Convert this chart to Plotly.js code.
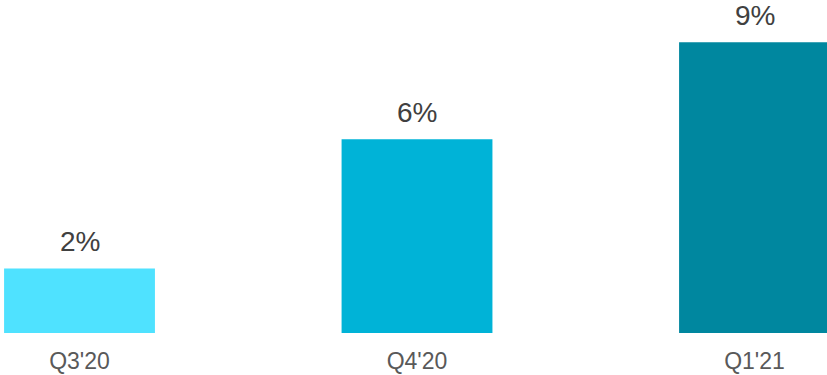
<!DOCTYPE html>
<html><head><meta charset="utf-8">
<script src="https://cdn.plot.ly/plotly-3.0.1.min.js"></script>
<style>html,body{margin:0;padding:0;background:#fff}#chart{width:827px;height:375px}</style>
</head><body><div id="chart"></div>
<script>
const categories = ["Q3'20", "Q4'20", "Q1'21"];
const values = [2, 6, 9];
const labels = ["2%", "6%", "9%"];
const colors = ["#4FE2FF", "#00B3D7", "#00879F"];

const trace = {
  type: 'bar',
  x: categories,
  y: values,
  marker: {color: colors, line: {width: 0}},
  width: 0.447,
  hoverinfo: 'none'
};
const annotations = categories.map((c, i) => ({
  x: c, y: values[i], text: labels[i], showarrow: false,
  xanchor: 'center', yanchor: 'bottom', yshift: 9,
  font: {family: 'Liberation Sans, Arial, sans-serif', size: 28, color: '#404040'}
}));
const layout = {
  width: 827, height: 375,
  margin: {l: 0, r: 0, t: 0, b: 41.5},
  paper_bgcolor: '#fff', plot_bgcolor: '#fff',
  showlegend: false,
  xaxis: {type: 'category', range: [-0.2356, 2.2148], showgrid: false, zeroline: false,
    showline: false, ticks: '', ticklabelstandoff: 12,
    tickfont: {family: 'Liberation Sans, Arial, sans-serif', size: 23, color: '#595959'}},
  yaxis: {range: [0, 10.31], visible: false, showgrid: false, zeroline: false},
  annotations: annotations
};
Plotly.newPlot('chart', [trace], layout, {staticPlot: true, displayModeBar: false});
</script></body></html>
